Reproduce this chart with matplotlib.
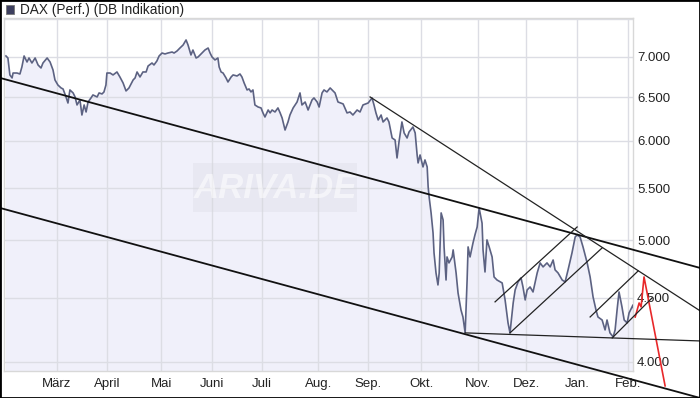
import matplotlib
matplotlib.use("Agg")
import matplotlib.pyplot as plt
from matplotlib.patches import Rectangle
from matplotlib.ticker import FixedLocator, NullLocator

# DAX (Perf.) Feb 2008 - Feb 2009, x = trading days since 1 Feb 2008
t = [0.8, 1.6, 2.4, 3.3, 3.7, 5.3, 6.5, 7.3, 8.2, 9.4, 10.2, 11.4, 12.7, 13.9, 15.1,
     15.9, 17.6, 18.8, 20.0, 20.8, 22.0, 23.3, 24.1, 25.3, 26.1, 26.9, 28.2, 29.0, 29.8,
     31.0, 31.8, 32.7, 33.5, 34.3, 35.5, 36.3, 38.0, 38.8, 40.0, 40.8, 41.6, 42.0, 43.3,
     44.5, 46.1, 47.3, 48.6, 49.8, 51.0, 52.7, 53.5, 54.3, 55.5, 56.7, 58.0, 58.8, 60.4,
     61.2, 62.4, 63.3, 64.5, 65.7, 66.9, 68.6, 69.4, 70.6, 71.8, 73.1, 74.3, 75.1, 76.3,
     77.1, 78.4, 79.2, 80.8, 82.0, 83.3, 84.1, 84.9, 86.1, 87.3, 87.8, 88.6, 89.4, 90.6,
     91.4, 92.7, 93.5, 95.1, 96.3, 97.1, 98.0, 99.2, 100.0, 100.8, 101.6, 102.4, 103.7,
     104.9, 105.7, 106.5, 107.8, 108.6, 109.4, 110.6, 111.8, 112.7, 113.5, 114.7, 115.9,
     116.7, 118.0, 119.6, 120.8, 121.6, 122.9, 124.1, 125.7, 126.5, 127.8, 128.6, 129.8,
     130.6, 131.8, 133.1, 135.1, 136.3, 138.4, 140.0, 141.2, 142.4, 144.1, 145.3, 146.5,
     148.6, 150.2, 151.0, 151.8, 152.7, 153.9, 154.7, 156.3, 157.1, 158.4, 159.6, 160.4,
     161.2, 162.4, 163.3, 164.5, 165.3, 166.9, 167.8, 168.6, 169.0, 169.8, 171.0, 171.8,
     172.7, 173.1, 173.5, 174.3, 175.1, 175.5, 176.3, 177.1, 177.6, 178.4, 179.2, 179.6,
     180.4, 180.8, 181.6, 182.9, 183.3, 184.5, 185.3, 186.5, 187.3, 188.2, 189.0, 189.4,
     190.2, 191.4, 192.2, 193.1, 193.9, 195.1, 195.5, 196.3, 197.1, 198.0, 199.2, 200.0,
     201.2, 203.3, 204.5, 205.7, 206.5, 207.8, 208.6, 209.8, 211.0, 211.8, 212.7, 213.5,
     214.7, 215.9, 217.6, 218.8, 220.0, 221.6, 222.9, 224.1, 224.9, 226.1, 227.8, 229.0,
     230.2, 231.8, 233.1, 233.9, 235.1, 236.3, 238.0, 239.2, 240.4, 241.6, 242.4, 244.1,
     245.3, 246.1, 247.3, 248.6, 249.4, 250.2, 251.0, 252.2, 253.1, 254.3, 255.1, 256.7,
     257.6]
dax = [7013, 6987, 6773, 6736, 6797, 6797, 6785, 6873, 7013, 6936, 6987, 6923, 6987, 6898, 6860,
       6923, 6987, 6936, 6835, 6711, 6649, 6613, 6601, 6505, 6433, 6589, 6553, 6505, 6410,
       6469, 6293, 6410, 6328, 6445, 6493, 6529, 6505, 6553, 6541, 6565, 6649, 6797, 6797,
       6773, 6810, 6748, 6674, 6577, 6613, 6711, 6736, 6810, 6748, 6810, 6810, 6885, 6923,
       6898, 6949, 7013, 7051, 7039, 7051, 7064, 7051, 7077, 7116, 7156, 7222, 7156, 7026,
       7090, 6987, 7000, 7051, 7090, 7116, 7051, 7000, 6962, 6987, 6873, 6810, 6797, 6736,
       6686, 6748, 6773, 6760, 6785, 6748, 6674, 6589, 6601, 6565, 6589, 6410, 6386,
       6375, 6317, 6270, 6351, 6317, 6351, 6328, 6375, 6317, 6259, 6122, 6213,
       6293, 6375, 6445, 6553, 6410, 6445, 6351, 6469, 6493, 6445, 6386, 6553,
       6589, 6565, 6613, 6553, 6445, 6422, 6317, 6328, 6293, 6351, 6328, 6410,
       6433, 6493, 6410, 6317, 6236, 6293, 6213, 6259, 6213, 6033, 6011, 5816,
       5989, 6213, 6089, 6033, 6100, 6156, 6089, 5848, 5763, 5848, 5721, 5795,
       5721, 5515, 5414, 5258, 5068, 4886, 4710, 4607, 4710, 5258, 5191, 4940,
       4649, 4850, 4797, 4850, 4913, 4710, 4540, 4400, 4344, 4219, 4649, 4940,
       4850, 4976, 5050, 5124, 5306, 5160, 4913, 4718, 5004, 4940, 4850, 4675,
       4649, 4624, 4482, 4297, 4219, 4457, 4565, 4633, 4667, 4590, 4482, 4565,
       4590, 4548, 4710, 4797, 4762, 4797, 4762, 4823, 4736, 4710, 4649, 4633,
       4736, 4886, 5031, 5050, 5031, 4940, 4797, 4675, 4507, 4400, 4344, 4320,
       4242, 4320, 4219, 4188, 4242, 4400, 4548, 4425, 4320, 4297, 4376, 4441,
       4344]

# projected move (red)
proj_t = [257.6, 259.2, 260.0, 261.2, 269.8]
proj_v = [4344, 4457, 4425, 4675, 3828]

# trend lines: (t_start, value_start, t_end, value_end)
trend_long = [
    (-1.6, 6736, 284.1, 4753),
    (-1.6, 5306, 284.1, 3744),
]
trend_short = [
    (149.4, 6505, 284.1, 4393),
    (188.2, 4219, 284.1, 4157),
    (200.4, 4466, 233.9, 5124),
    (206.5, 4219, 244.1, 4931),
    (239.2, 4344, 258.8, 4727),
    (248.2, 4180, 264.5, 4499),
]

month_pos = [21.6, 42.0, 64.1, 84.9, 105.3, 128.2, 148.6, 170.2, 193.5, 213.1, 233.9, 254.7]
month_labels = ["März", "April", "Mai", "Juni", "Juli", "Aug.", "Sep.", "Okt.",
                "Nov.", "Dez.", "Jan.", "Feb."]
y_ticks = [4000, 4500, 5000, 5500, 6000, 6500, 7000, 7500]

plt.rcParams['font.family'] = ['Liberation Sans', 'DejaVu Sans']

fig = plt.figure(figsize=(7, 3.98), dpi=100)
ax = fig.add_axes([4 / 700, 27 / 398, 629 / 700, 353 / 398])

ax.set_yscale('log')
ax.set_xlim(0, 256.7)
ax.set_ylim(3934, 7519)

ax.fill_between(t, dax, 3000, color='#f0f0fa', lw=0, zorder=0.3)
ax.plot(t, dax, color='#5c6282', lw=1.2, zorder=3)
ax.plot(proj_t, proj_v, color='#e8282a', lw=1.2, zorder=4, clip_on=False)

for t0, v0, t1, v1 in trend_long:
    ax.plot([t0, t1], [v0, v1], color='#111111', lw=1.3, zorder=4, clip_on=False)
for t0, v0, t1, v1 in trend_short:
    ax.plot([t0, t1], [v0, v1], color='#222222', lw=0.9, zorder=4, clip_on=False)

# watermark, very faint
ax.add_patch(Rectangle((0.300, 0.450), 0.261, 0.139, transform=ax.transAxes,
                       facecolor='#d8d8e0', alpha=0.3, lw=0, zorder=1))
ax.text(0.432, 0.518, "ARIVA.DE", transform=ax.transAxes, fontsize=25,
        fontweight='bold', fontstyle='italic', color='white', alpha=0.55,
        ha='center', va='center', zorder=1.1)

ax.xaxis.set_major_locator(FixedLocator(month_pos))
ax.set_xticklabels(month_labels)
ax.yaxis.set_major_locator(FixedLocator(y_ticks))
ax.yaxis.set_minor_locator(NullLocator())
ax.set_yticklabels([f"{v:,}".replace(",", ".") if v < 7500 else "" for v in y_ticks])
ax.yaxis.tick_right()
ax.tick_params(axis='both', length=0, labelsize=9.5, colors='#222222')
ax.tick_params(axis='y', pad=3)
ax.tick_params(axis='x', pad=5)

ax.set_axisbelow(True)
ax.grid(True, color='#dcdde4', lw=1)
for s in ax.spines.values():
    s.set_color('#d8d8d8')
    s.set_linewidth(1)

# legend box at top left
fig.patches.append(Rectangle((6 / 700, 1 - 14 / 398), 8 / 700, 9 / 398,
                             transform=fig.transFigure, facecolor='#3c3e5e',
                             edgecolor='#777777', lw=0.6))
fig.text(20 / 700, 1 - 10 / 398, "DAX (Perf.) (DB Indikation)", fontsize=9.8,
         color='#222222', va='center', ha='left')

# outer frame
fig.patches.append(Rectangle((0, 0), 1, 1, transform=fig.transFigure, fill=False,
                             edgecolor='black', lw=2))

fig.savefig("out.png", dpi=100)
